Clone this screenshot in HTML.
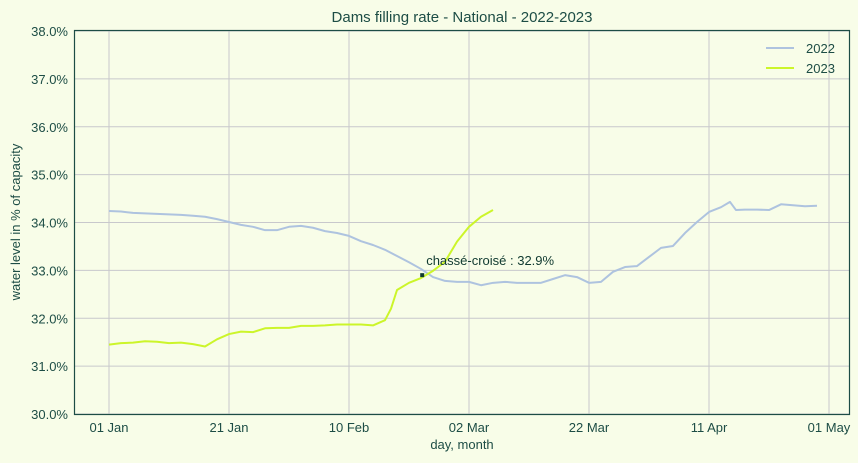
<!DOCTYPE html>
<html><head><meta charset="utf-8"><style>
body{margin:0;background:#f8fde8;}
svg{display:block;font-family:"Liberation Sans",sans-serif;}
</style></head><body>
<svg id="chart" width="858" height="463" viewBox="0 0 858 463">
<rect x="0" y="0" width="858" height="463" fill="#f8fde8"/>
<text x="462" y="22" text-anchor="middle" font-size="15" fill="#1d4d45">Dams filling rate - National - 2022-2023</text>
<g id="grid"></g>
<g id="ticks"></g>
<g id="series"></g>
<rect x="74.5" y="30.5" width="775" height="384" fill="none" stroke="#1d4d45" stroke-width="1.2"/>
<text x="462" y="449" text-anchor="middle" font-size="13" fill="#1d4d45">day, month</text>
<text transform="translate(20,222) rotate(-90)" text-anchor="middle" font-size="13" fill="#1d4d45">water level in % of capacity</text>
<g>
<line x1="766" y1="48" x2="794" y2="48" stroke="#aec3df" stroke-width="2"/>
<text x="806" y="53" font-size="13" fill="#1d4d45">2022</text>
<line x1="766" y1="68" x2="794" y2="68" stroke="#ccf52a" stroke-width="2"/>
<text x="806" y="73" font-size="13" fill="#1d4d45">2023</text>
</g>
</svg>
<script>
const days2022 = [0,2,4,6,8,10,12,14,16,18,20,22,24,26,28,30,32,34,36,38,40,42,44,46,48,50,52,54,56,58,60,62,64,66,68,70,72,74,76,78,80,82,84,86,88,90,92,94,96,98,100,102,103.5,104.5,106,108,110,112,114,116,118];
const values2022 = [34.24,34.23,34.20,34.19,34.18,34.17,34.16,34.14,34.12,34.07,34.01,33.95,33.91,33.84,33.84,33.91,33.93,33.89,33.82,33.78,33.72,33.61,33.53,33.43,33.30,33.17,33.03,32.86,32.78,32.76,32.76,32.69,32.74,32.76,32.74,32.74,32.74,32.82,32.90,32.86,32.74,32.76,32.97,33.07,33.09,33.28,33.47,33.51,33.78,34.01,34.22,34.32,34.43,34.26,34.27,34.27,34.26,34.38,34.36,34.34,34.35];
const days2023 = [0,2,4,6,8,10,12,14,16,18,20,22,24,26,28,30,32,34,36,38,40,42,44,46,47,48,50,52,54,56,58,60,62,64];
const values2023 = [31.45,31.48,31.49,31.52,31.51,31.48,31.49,31.46,31.41,31.56,31.67,31.72,31.71,31.79,31.80,31.80,31.84,31.84,31.85,31.87,31.87,31.87,31.85,31.96,32.20,32.59,32.74,32.84,32.99,33.18,33.60,33.91,34.12,34.26];
const yTicks = [30,31,32,33,34,35,36,37,38];
const xTickDays = [0,20,40,60,80,100,120];
const xTickLabels = ["01 Jan","21 Jan","10 Feb","02 Mar","22 Mar","11 Apr","01 May"];
const crossDay = 52.2;
const crossValue = 32.9;

const NS="http://www.w3.org/2000/svg";
const X = d => 109 + 6*d;
const Y = v => 414 - (v-30)*47.875;
function mk(tag, parent){const e=document.createElementNS(NS,tag);parent.appendChild(e);return e;}
const grid=document.getElementById('grid'), ticks=document.getElementById('ticks'), series=document.getElementById('series');
yTicks.forEach(v=>{
  const l=mk('line',grid);
  
  
  l.setAttribute('x1',74);l.setAttribute('x2',849);l.setAttribute('y1',Y(v));l.setAttribute('y2',Y(v));
  l.setAttribute('stroke','#c8c8cc');l.setAttribute('stroke-width','1');
  const t=mk('text',ticks);
  
  
  t.setAttribute('x',68);t.setAttribute('y',Y(v)+5);t.setAttribute('text-anchor','end');
  t.setAttribute('font-size','13');t.setAttribute('fill','#1d4d45');
  t.textContent=v.toFixed(1)+'%';
});
xTickDays.forEach((d,i)=>{
  const l=mk('line',grid);
  
  
  l.setAttribute('x1',X(d));l.setAttribute('x2',X(d));l.setAttribute('y1',30);l.setAttribute('y2',414);
  l.setAttribute('stroke','#c8c8cc');l.setAttribute('stroke-width','1');
  const t=mk('text',ticks);
  
  
  t.setAttribute('x',X(d));t.setAttribute('y',432);t.setAttribute('text-anchor','middle');
  t.setAttribute('font-size','13');t.setAttribute('fill','#1d4d45');
  t.textContent=xTickLabels[i];
});
function line(days, vals, color, name){
  const p=mk('polyline',series);
  
  
  p.setAttribute('points',days.map((d,i)=>X(d)+','+Y(vals[i])).join(' '));
  p.setAttribute('fill','none');p.setAttribute('stroke',color);p.setAttribute('stroke-width','2');
  p.setAttribute('stroke-linejoin','round');
}
line(days2022, values2022, '#aec3df', 'line-2022');
line(days2023, values2023, '#ccf52a', 'line-2023');
const m=mk('rect',series);


m.setAttribute('x',X(crossDay)-2);m.setAttribute('y',Y(crossValue)-2);m.setAttribute('width',4);m.setAttribute('height',4);m.setAttribute('fill','#103a30');
const a=mk('text',series);


a.setAttribute('x',X(crossDay)+4);a.setAttribute('y',Y(crossValue)-10);
a.setAttribute('font-size','13');a.setAttribute('fill','#103a30');
a.textContent='chassé-croisé : '+crossValue.toFixed(1)+'%';
</script>
</body></html>
